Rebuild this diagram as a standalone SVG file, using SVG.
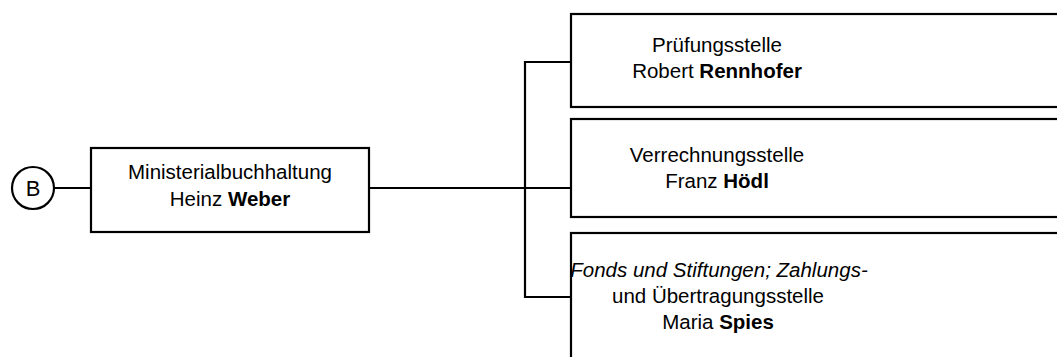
<svg xmlns="http://www.w3.org/2000/svg" width="1057" height="357" viewBox="0 0 1057 357">
<style>
.box{fill:#fff;stroke:#000;stroke-width:2.2}
.ln{fill:none;stroke:#000;stroke-width:2.2}
text{font-family:"Liberation Sans",Arial,sans-serif;font-size:20.5px;fill:#000;text-anchor:middle}
.b{font-weight:bold}
.i{font-style:italic}
</style>
<rect width="1057" height="357" fill="#fff"/>
<g id="connectors">
<line class="ln" x1="54" y1="188" x2="91" y2="188"/>
<line class="ln" x1="369" y1="188" x2="571" y2="188"/>
<polyline class="ln" points="571,62 525,62 525,297 571,297"/>
</g>
<g id="nodeB">
<circle class="box" cx="33" cy="188" r="21"/>
<text x="33" y="196" style="font-size:22px">B</text>
</g>
<g id="node-ministerialbuchhaltung">
<rect class="box" x="91" y="148" width="278" height="84"/>
<text x="230" y="179">Ministerialbuchhaltung</text>
<text x="230" y="206">Heinz <tspan class="b">Weber</tspan></text>
</g>
<g id="node-pruefungsstelle">
<rect class="box" x="571" y="14" width="500" height="93"/>
<text x="717" y="52">Prüfungsstelle</text>
<text x="717" y="78">Robert <tspan class="b">Rennhofer</tspan></text>
</g>
<g id="node-verrechnungsstelle">
<rect class="box" x="571" y="119" width="500" height="98"/>
<text x="717" y="162">Verrechnungsstelle</text>
<text x="717" y="188">Franz <tspan class="b">Hödl</tspan></text>
</g>
<g id="node-fonds">
<rect class="box" x="571" y="233" width="500" height="140"/>
<text x="719" y="277"><tspan class="i">Fonds und Stiftungen; Zahlungs-</tspan></text>
<text x="718" y="303">und Übertragungsstelle</text>
<text x="718" y="329">Maria <tspan class="b">Spies</tspan></text>
</g>
</svg>
